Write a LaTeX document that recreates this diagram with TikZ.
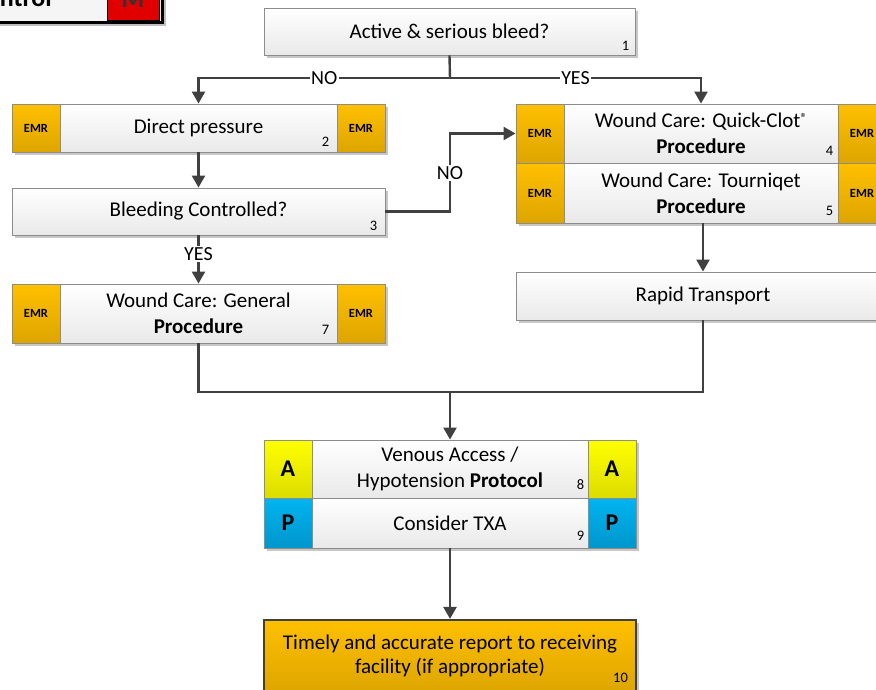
\documentclass[tikz,border=0pt]{standalone}
\usepackage{fontspec}
\setmainfont{Carlito}
\usetikzlibrary{arrows.meta,shadows,calc}
\definecolor{linegray}{HTML}{404040}
\definecolor{boxgray}{HTML}{8C8C8C}
\definecolor{midbot}{HTML}{E9E9E9}
\definecolor{emrtop}{HTML}{FFC000}
\definecolor{emrbot}{HTML}{DDA500}
\definecolor{atop}{HTML}{FFFF00}
\definecolor{abot}{HTML}{DCDC00}
\definecolor{ptop}{HTML}{00B4F0}
\definecolor{pbot}{HTML}{0096CC}
\definecolor{hdrred}{HTML}{E00000}
\newcommand{\regmark}{\raisebox{0.55ex}{\fontsize{13}{14}\selectfont ®}}
\begin{document}
\begin{tikzpicture}[x=1pt,y=-1pt,
  shadowed/.style={drop shadow={shadow xshift=2.5pt,shadow yshift=-2.5pt,fill=black,opacity=0.22}},
  base/.style={rectangle,inner sep=0pt,draw=boxgray,line width=0.9pt,shadowed},
  mid/.style={base,top color=white,bottom color=midbot,align=center,
    font=\fontsize{21}{26}\selectfont},
  emr/.style={base,top color=emrtop,bottom color=emrbot,minimum width=48pt,
    font=\bfseries\fontsize{12.5}{14}\selectfont},
  abox/.style={base,top color=atop,bottom color=abot,minimum width=48pt,
    font=\bfseries\fontsize{24}{26}\selectfont},
  pbox/.style={base,top color=ptop,bottom color=pbot,minimum width=48pt,
    font=\bfseries\fontsize{24}{26}\selectfont},
  num/.style={anchor=base east,inner sep=0pt,font=\fontsize{14.5}{16}\selectfont},
  lbl/.style={fill=white,inner sep=1.5pt,font=\fontsize{20}{22}\selectfont},
  ln/.style={draw=linegray,line width=2.4pt},
  arr/.style={ln,-{Triangle[width=13pt,length=12pt]}},
]
\useasboundingbox (0,0) rectangle (876,689);
\begin{scope}
\clip (0,0) rectangle (876,689);

% header tab, partly outside the page
\fill[black,opacity=0.25] (-40,-40) rectangle (166,26);
\node[draw=black,line width=3pt,fill=gray!8,minimum width=210pt,minimum height=70pt,inner sep=0pt]
  (hdr) at (57,-13) {};
\node[fill=hdrred,draw=black,line width=1pt,minimum width=52pt,minimum height=60pt,inner sep=0pt]
  (hdrm) at (133,-10) {};
\node[anchor=base east,inner sep=0pt,font=\bfseries\fontsize{26}{28}\selectfont]
  (hdrt) at (52,6) {Bleeding Control};
\node[anchor=base,inner sep=0pt,font=\bfseries\fontsize{26}{28}\selectfont,text=black!80]
  (hdrmt) at (133,7) {M};

% step 1
\node[mid,minimum width=371pt,minimum height=47pt] (b1) at (449.5,31.5) {Active \& serious bleed?};
\node[num] (n1) at ($(b1.south east)+(-6,-5)$) {1};

% step 2
\node[emr,minimum height=48pt] (b2l) at (36,128) {EMR};
\node[mid,minimum width=277pt,minimum height=48pt] (b2) at (198.5,128) {Direct pressure};
\node[emr,minimum height=48pt] (b2r) at (361,128) {EMR};
\node[num] (n2) at ($(b2.south east)+(-8,-6)$) {2};

% step 3
\node[mid,minimum width=373pt,minimum height=47pt] (b3) at (198.5,211.5) {Bleeding Controlled?};
\node[num] (n3) at ($(b3.south east)+(-8,-5)$) {3};

% step 7
\node[emr,minimum height=59pt] (b7l) at (36,313.5) {EMR};
\node[mid,minimum width=277pt,minimum height=59pt] (b7) at (198.5,313.5) {Wound Care: General\\\textbf{Procedure}};
\node[emr,minimum height=59pt] (b7r) at (361,313.5) {EMR};
\node[num] (n7) at ($(b7.south east)+(-8,-9)$) {7};

% step 4
\node[emr,minimum height=59pt] (b4l) at (540,133.5) {EMR};
\node[mid,minimum width=274pt,minimum height=59pt] (b4) at (701,133.5) {Wound Care: Quick-Clot\regmark\\\textbf{Procedure}};
\node[emr,minimum height=59pt] (b4r) at (862,133.5) {EMR};
\node[num] (n4) at ($(b4.south east)+(-5,-8)$) {4};

% step 5
\node[emr,minimum height=60pt] (b5l) at (540,193) {EMR};
\node[mid,minimum width=274pt,minimum height=60pt] (b5) at (701,193) {Wound Care: Tourniqet\\\textbf{Procedure}};
\node[emr,minimum height=60pt] (b5r) at (862,193) {EMR};
\node[num] (n5) at ($(b5.south east)+(-5,-8)$) {5};

% step 6
\node[mid,minimum width=374pt,minimum height=48pt] (b6) at (703,296) {Rapid Transport};
\node[num] (n6) at ($(b6.south east)+(-7,-5)$) {6};

% step 8
\node[abox,minimum height=58pt] (b8l) at (288,469) {A};
\node[mid,minimum width=276pt,minimum height=58pt] (b8) at (450,469) {Venous Access /\\Hypotension \textbf{Protocol}};
\node[abox,minimum height=58pt] (b8r) at (612,469) {A};
\node[num] (n8) at ($(b8.south east)+(-4,-9)$) {8};

% step 9
\node[pbox,minimum height=50pt] (b9l) at (288,523) {P};
\node[mid,minimum width=276pt,minimum height=50pt] (b9) at (450,523) {Consider TXA};
\node[pbox,minimum height=50pt] (b9r) at (612,523) {P};
\node[num] (n9) at ($(b9.south east)+(-4,-8)$) {9};

% step 10
\node[base,draw=linegray,line width=2.2pt,top color=emrtop,bottom color=emrbot,align=center,
  font=\fontsize{21}{24}\selectfont,minimum width=372pt,minimum height=72pt]
  (b10) at (450,656) {Timely and accurate report to receiving\\facility (if appropriate)};
\node[num] (n10) at ($(b10.north east)+(-9,64)$) {10};

% connectors
\coordinate (j1) at (450,78);
\coordinate (j2) at (450,392);
\draw[ln] (b1.south) -- (j1);
\draw[arr] (j1) -| (b2.north) node[pos=0.25,lbl] (lno1) {NO};
\draw[arr] (j1) -| (b4.north) node[pos=0.25,lbl] (lyes1) {YES};
\draw[arr] (b2.south) -- (b3.north);
\draw[arr] (b3.east) -| (450,173) node[lbl] (lno2) {NO} |- (b4l.west);
\draw[arr] (b3.south) -- (b7.north) node[pos=0.38,lbl] (lyes2) {YES};
\draw[arr] (b6.north|-b5.south) -- (b6.north);
\draw[ln] (b7.south) |- (j2);
\draw[ln] (b6.south) |- (j2);
\draw[arr] (j2) -- (b8.north);
\draw[arr] (b9.south) -- (b10.north);
\end{scope}
\end{tikzpicture}
\end{document}
